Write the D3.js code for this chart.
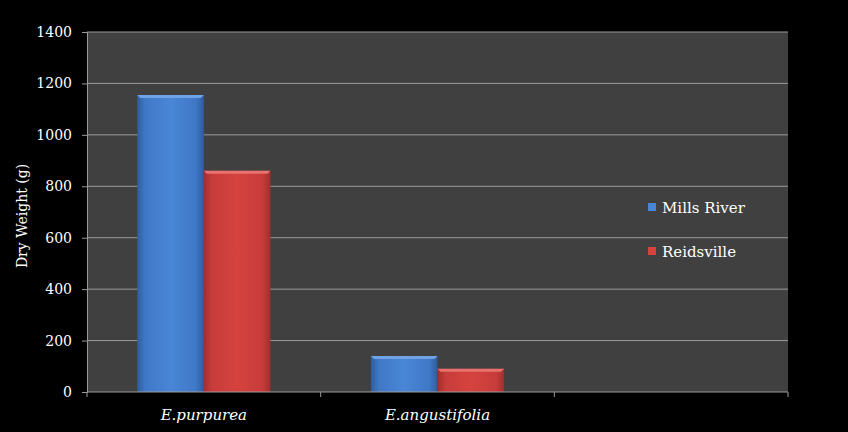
<!DOCTYPE html>
<html>
<head>
<meta charset="utf-8">
<script src="https://cdn.jsdelivr.net/npm/d3@7"></script>
<style>
  body { margin: 0; background: #000; }
  svg { display: block; }
  text { font-family: "DejaVu Serif", serif; fill: #fff; }
</style>
</head>
<body>
<div id="chart"></div>
<script>
const categories = ['E.purpurea', 'E.angustifolia', ''];
const seriesNames = ['Mills River', 'Reidsville'];
const millsRiver = [1155, 140, null];
const reidsville = [860, 90, null];
const yTicks = [0, 200, 400, 600, 800, 1000, 1200, 1400];

const width = 848, height = 432;
const margin = { top: 32, right: 60, bottom: 40, left: 87 };
const plotW = width - margin.left - margin.right;
const plotH = height - margin.top - margin.bottom;

const svg = d3.select('#chart').append('svg')
  .attr('width', width)
  .attr('height', height);

const defs = svg.append('defs');
// bar gradients, darker edges, lighter middle
function makeGrad(id, dark, mid, light) {
  let g = defs.append('linearGradient').attr('id', id)
    .attr('x1', 0).attr('x2', 1).attr('y1', 0).attr('y2', 0);
  g.append('stop').attr('offset', '0%').attr('stop-color', dark);
  g.append('stop').attr('offset', '12%').attr('stop-color', mid);
  g.append('stop').attr('offset', '50%').attr('stop-color', light);
  g.append('stop').attr('offset', '88%').attr('stop-color', mid);
  g.append('stop').attr('offset', '100%').attr('stop-color', dark);
}
makeGrad('gBlue', '#2f5d9c', '#3f78c6', '#4a86d6');
makeGrad('gRed', '#9e2f2d', '#c73c3a', '#d6433f');

const colors = ['url(#gBlue)', 'url(#gRed)'];
const tops = ['#6fa2e6', '#e9716e'];
const legendColors = ['#4a86d6', '#d6433f'];

const g = svg.append('g').attr('transform', `translate(${margin.left},${margin.top})`);

const x = d3.scaleBand().domain(d3.range(categories.length)).range([0, plotW]).paddingInner(0).paddingOuter(0);
const x1 = d3.scaleBand().domain([0, 1]).range([x.bandwidth() * 0.215, x.bandwidth() * 0.785]);
const y = d3.scaleLinear().domain([0, 1400]).range([plotH, 0]);

// plot background
g.append('rect')
  .attr('width', plotW)
  .attr('height', plotH)
  .attr('fill', '#404040');

// gridlines
g.selectAll('.grid')
  .data(yTicks.filter(d => d > 0))
  .enter().append('line')
  .attr('x1', 0).attr('x2', plotW)
  .attr('y1', d => y(d)).attr('y2', d => y(d))
  .attr('stroke', '#9a9a9a')
  .attr('stroke-width', 1);

// bars
const series = [millsRiver, reidsville];
series.forEach((vals, si) => {
  const bars = g.append('g');
  vals.forEach((v, ci) => {
    if (v == null) return;
    const bx = x(ci) + x1(si);
    const bw = x1.bandwidth();
    const by = y(v);
    bars.append('rect')
      .attr('x', bx).attr('y', by)
      .attr('width', bw).attr('height', y(0) - by)
      .attr('fill', colors[si]);
    // top bevel
    bars.append('path')
      .attr('d', `M${bx},${by} L${bx + bw},${by} L${bx + bw - 3},${by + 3} L${bx + 3},${by + 3} Z`)
      .attr('fill', tops[si]);
  });
});

// y axis
const yAxis = g.append('g')
  .call(d3.axisLeft(y).tickValues(yTicks).tickSize(5).tickPadding(10).tickFormat(d3.format('d')));
yAxis.select('.domain').attr('stroke', '#9a9a9a');
yAxis.selectAll('.tick line').attr('stroke', '#9a9a9a');
yAxis.selectAll('.tick text').attr('font-size', 14).attr('fill', '#fff')
  .style('font-family', '"DejaVu Serif", serif');

// x axis
const xAxisG = g.append('g').attr('transform', `translate(0,${plotH})`);
xAxisG.append('line').attr('x1', 0).attr('x2', plotW).attr('stroke', '#9a9a9a');
xAxisG.selectAll('.xt')
  .data(d3.range(categories.length + 1))
  .enter().append('line')
  .attr('x1', d => d * x.bandwidth()).attr('x2', d => d * x.bandwidth())
  .attr('y1', 0).attr('y2', 5)
  .attr('stroke', '#9a9a9a');
xAxisG.selectAll('.xl')
  .data(categories)
  .enter().append('text')
  .attr('x', (d, i) => x(i) + x.bandwidth() / 2)
  .attr('y', 28)
  .attr('text-anchor', 'middle')
  .attr('font-size', 15)
  .attr('font-style', 'italic')
  .text(d => d);

// y label
svg.append('text')
  .attr('transform', `translate(27,${margin.top + plotH / 2 + 4}) rotate(-90)`)
  .attr('text-anchor', 'middle')
  .attr('font-size', 14)
  .text('Dry Weight (g)');

// legend
const legend = svg.append('g').attr('transform', 'translate(648,207)');
seriesNames.forEach((name, i) => {
  const lg = legend.append('g').attr('transform', `translate(0,${i * 44})`);
  lg.append('rect').attr('x', 0).attr('y', -4).attr('width', 8).attr('height', 8)
    .attr('fill', legendColors[i]);
  lg.append('text').attr('x', 14).attr('y', 6).attr('font-size', 15).text(name);
});
</script>
</body>
</html>
